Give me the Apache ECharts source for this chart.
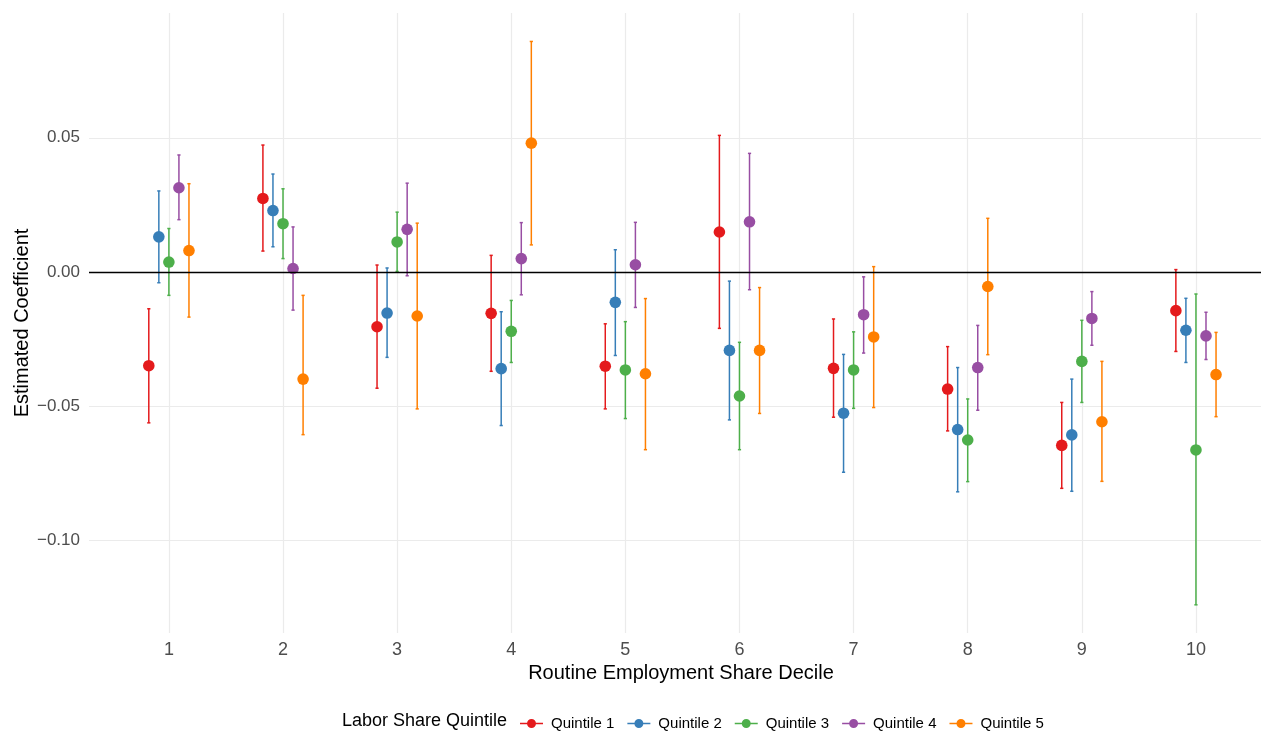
<!DOCTYPE html>
<html>
<head>
<meta charset="utf-8">
<script src="https://cdn.jsdelivr.net/npm/echarts@6/dist/echarts.min.js"></script>
<style>
  html, body { margin: 0; padding: 0; background: #ffffff; }
  #chart { width: 1266px; height: 732px; }
</style>
</head>
<body>
<div id="chart"></div>
<script>
// Routine employment share deciles on the x axis
const deciles = [1, 2, 3, 4, 5, 6, 7, 8, 9, 10];
const quintiles = ['Quintile 1', 'Quintile 2', 'Quintile 3', 'Quintile 4', 'Quintile 5'];
const yTicks = [-0.10, -0.05, 0.00, 0.05];

// Point estimates and 95% interval bounds, one set per labor share quintile
const est1 = [-0.0349, 0.0274, -0.0204, -0.0154, -0.0351, 0.0149, -0.0359, -0.0436, -0.0646, -0.0144];
const lo1  = [-0.0562, 0.0078, -0.0433, -0.0370, -0.0510, -0.0210, -0.0541, -0.0592, -0.0806, -0.0296];
const hi1  = [-0.0137, 0.0473, 0.0026, 0.0062, -0.0193, 0.0509, -0.0175, -0.0278, -0.0486, 0.0009];

const est2 = [0.0131, 0.0229, -0.0153, -0.0360, -0.0113, -0.0292, -0.0526, -0.0587, -0.0607, -0.0217];
const lo2  = [-0.0040, 0.0094, -0.0318, -0.0572, -0.0311, -0.0551, -0.0746, -0.0819, -0.0817, -0.0337];
const hi2  = [0.0302, 0.0365, 0.0015, -0.0148, 0.0083, -0.0034, -0.0307, -0.0356, -0.0399, -0.0098];

const est3 = [0.0037, 0.0180, 0.0112, -0.0221, -0.0365, -0.0462, -0.0365, -0.0626, -0.0333, -0.0663];
const lo3  = [-0.0087, 0.0050, 0.0002, -0.0337, -0.0546, -0.0662, -0.0508, -0.0781, -0.0486, -0.1240];
const hi3  = [0.0162, 0.0310, 0.0223, -0.0106, -0.0185, -0.0262, -0.0223, -0.0473, -0.0180, -0.0082];

const est4 = [0.0314, 0.0013, 0.0159, 0.0050, 0.0027, 0.0187, -0.0159, -0.0356, -0.0173, -0.0238];
const lo4  = [0.0195, -0.0142, -0.0014, -0.0085, -0.0132, -0.0066, -0.0302, -0.0515, -0.0273, -0.0326];
const hi4  = [0.0436, 0.0168, 0.0331, 0.0184, 0.0185, 0.0442, -0.0018, -0.0199, -0.0073, -0.0150];

const est5 = [0.0080, -0.0399, -0.0164, 0.0480, -0.0379, -0.0292, -0.0242, -0.0054, -0.0558, -0.0382];
const lo5  = [-0.0168, -0.0606, -0.0510, 0.0101, -0.0662, -0.0527, -0.0505, -0.0308, -0.0780, -0.0539];
const hi5  = [0.0329, -0.0087, 0.0182, 0.0859, -0.0099, -0.0058, 0.0020, 0.0200, -0.0333, -0.0225];

const estimates = [est1, est2, est3, est4, est5];
const lowers = [lo1, lo2, lo3, lo4, lo5];
const uppers = [hi1, hi2, hi3, hi4, hi5];

const colors = ['#E41A1C', '#377EB8', '#4DAF4A', '#984EA3', '#FF7F00'];
const FONT = '"Liberation Sans", Arial, Helvetica, sans-serif';
const DODGE = 0.088;   // horizontal spacing between quintiles within a decile

// legend key: short horizontal line on both sides of a filled dot
const KEY_ICON = 'path://M0,4.3H7.5V5.7H0Z M15.5,4.3H23V5.7H15.5Z M7,5A4.5,4.5,0,1,1,16,5A4.5,4.5,0,1,1,7,5Z';

function fmtY(v) {
  const s = Math.abs(v).toFixed(2);
  return v < -1e-9 ? '\u2212' + s : s;
}

function makeRenderer(q) {
  const color = colors[q];
  const offset = (q - 2) * DODGE;
  return function (params, api) {
    const x = api.value(0) + offset;
    const p = api.coord([x, api.value(1)]);
    const lo = api.coord([x, api.value(2)]);
    const hi = api.coord([x, api.value(3)]);
    const cap = 1.6;
    const line = { stroke: color, lineWidth: 1.5 };
    return {
      type: 'group',
      children: [
        { type: 'line', shape: { x1: p[0], y1: lo[1], x2: p[0], y2: hi[1] }, style: line },
        { type: 'line', shape: { x1: p[0] - cap, y1: hi[1], x2: p[0] + cap, y2: hi[1] }, style: line },
        { type: 'line', shape: { x1: p[0] - cap, y1: lo[1], x2: p[0] + cap, y2: lo[1] }, style: line },
        { type: 'circle', shape: { cx: p[0], cy: p[1], r: 5.8 }, style: { fill: color } }
      ]
    };
  };
}

const series = [
  // reference line at zero
  {
    type: 'line',
    data: [],
    silent: true,
    z: 1,
    markLine: {
      silent: true,
      symbol: 'none',
      label: { show: false },
      lineStyle: { color: '#000000', width: 1.4, type: 'solid' },
      data: [{ yAxis: 0 }]
    }
  }
];

quintiles.forEach(function (name, q) {
  series.push({
    name: name,
    type: 'custom',
    z: 2,
    itemStyle: { color: colors[q] },
    renderItem: makeRenderer(q),
    encode: { x: 0, y: [1, 2, 3] },
    data: deciles.map(function (d, i) {
      return [d, estimates[q][i], lowers[q][i], uppers[q][i]];
    })
  });
});

const chart = echarts.init(document.getElementById('chart'), null, { renderer: 'canvas' });
chart.setOption({
  backgroundColor: '#ffffff',
  animation: false,
  textStyle: { fontFamily: FONT },
  grid: { left: 89, right: 5, top: 13, bottom: 99, containLabel: false },
  xAxis: {
    type: 'value',
    min: 0.3,
    max: 10.57,
    axisLine: { show: false },
    axisTick: { show: false, customValues: deciles },
    axisLabel: {
      customValues: deciles,
      formatter: function (v) { return String(Math.round(v)); },
      color: '#4d4d4d',
      fontSize: 18,
      fontFamily: FONT,
      margin: 8
    },
    splitLine: { show: true, lineStyle: { color: '#ebebeb', width: 1.2 } }
  },
  yAxis: {
    type: 'value',
    min: -0.1345,
    max: 0.0965,
    axisLine: { show: false },
    axisTick: { show: false, customValues: yTicks },
    axisLabel: {
      customValues: yTicks,
      formatter: fmtY,
      color: '#4d4d4d',
      fontSize: 17,
      fontFamily: FONT,
      margin: 9
    },
    splitLine: { show: true, lineStyle: { color: '#ebebeb', width: 1.2 } }
  },
  legend: {
    left: 515,
    top: 711,
    orient: 'horizontal',
    itemWidth: 23,
    itemHeight: 9,
    itemGap: 13,
    icon: KEY_ICON,
    textStyle: { fontSize: 15, color: '#000000', fontFamily: FONT, padding: [0, 0, 0, 3] },
    data: quintiles.map(function (name, q) {
      return {
        name: name,
        itemStyle: { color: colors[q], borderWidth: 0, opacity: 1 }
      };
    })
  },
  graphic: [
    {
      type: 'text',
      x: 342,
      y: 721,
      style: { text: 'Labor Share Quintile', font: '18px ' + FONT, fill: '#000000', verticalAlign: 'middle' }
    },
    {
      type: 'text',
      x: 681,
      y: 673,
      style: { text: 'Routine Employment Share Decile', font: '20px ' + FONT, fill: '#000000', align: 'center', verticalAlign: 'middle' }
    },
    {
      type: 'text',
      x: 22,
      y: 323,
      rotation: Math.PI / 2,
      style: { text: 'Estimated Coefficient', font: '20px ' + FONT, fill: '#000000', align: 'center', verticalAlign: 'middle' }
    }
  ],
  series: series
});
</script>
</body>
</html>
